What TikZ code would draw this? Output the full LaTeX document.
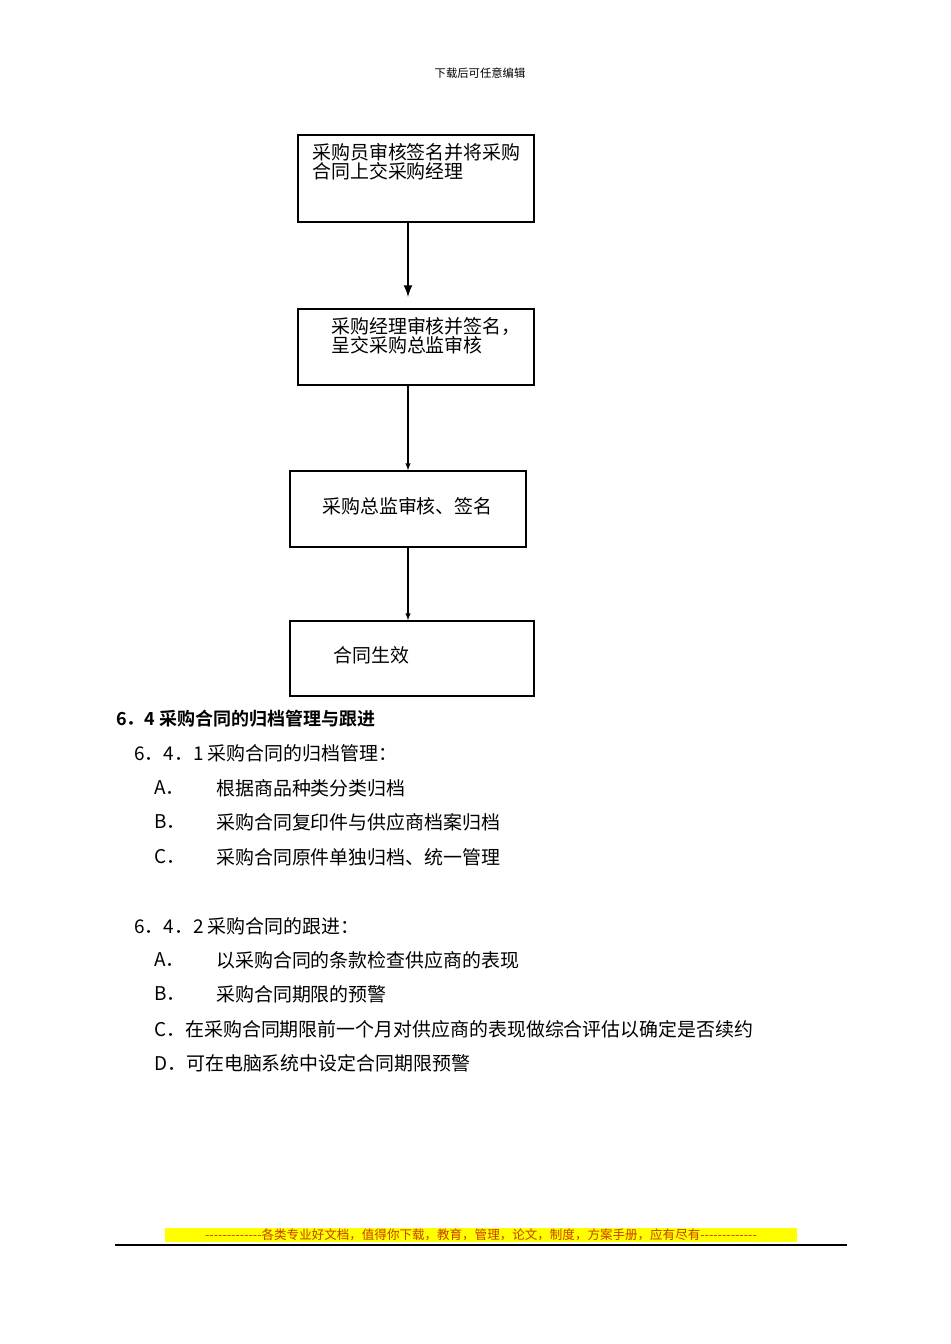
\documentclass[tikz,border=0pt]{standalone}
\usepackage{fontspec}
\setmainfont{Noto Sans CJK SC}
\newfontfamily\cjkb{Noto Sans CJK SC}[BoldFont={* Bold}]
\definecolor{hl}{RGB}{255,255,0}
\definecolor{ft}{RGB}{200,60,0}
\newcommand\dsh{-{}-{}-{}-{}-{}-{}-{}-{}-{}-{}-{}-{}-{}}
\begin{document}
\begin{tikzpicture}[x=0.75pt,y=-0.75pt,
  box/.style={draw,line width=1pt},
  txt/.style={anchor=west,inner sep=0,font=\fontsize{14.2}{17}\selectfont},
  arr/.style={-latex,line width=0.8pt},
  arrb/.style={-latex,line width=2pt}]
\useasboundingbox (0,0) rectangle (950,1344);
\node (hdr) at (480,73) {\fontsize{8.5}{10}\selectfont 下载后可任意编辑};
\node[box,minimum width=236*0.75pt,minimum height=87*0.75pt] (b1) at (416,178.5) {};
\node[box,minimum width=236*0.75pt,minimum height=76*0.75pt] (b2) at (416,347) {};
\node[box,minimum width=236*0.75pt,minimum height=76*0.75pt] (b3) at (408,509) {};
\node[box,minimum width=244*0.75pt,minimum height=75*0.75pt] (b4) at (412,658.5) {};
\node[txt] (t1a) at (312,152) {采购员审核签名并将采购};
\node[txt] (t1b) at (312,171) {合同上交采购经理};
\node[txt] (t2a) at (331,326) {采购经理审核并签名，};
\node[txt] (t2b) at (331,345) {呈交采购总监审核};
\node[txt] (t3) at (322,506) {采购总监审核、签名};
\node[txt] (t4) at (333,655) {合同生效};
\draw[arrb] (b1.south -| 408,0) -- (408,297);
\draw[arr] (b2.south -| 408,0) -- (b3.north -| 408,0);
\draw[arr] (b3.south) -- (b4.north -| 408,0);
\node[txt,font=\cjkb\bfseries\fontsize{13.5}{16}\selectfont] (h) at (116,719) {6．4 采购合同的归档管理与跟进};
\node[txt] (s1) at (134,753) {6．4．1 采购合同的归档管理：};
\node[txt] (a1) at (154,788) {A．};\node[txt] (a1t) at (216,788) {根据商品种类分类归档};
\node[txt] (a2) at (154,822) {B．};\node[txt] (a2t) at (216,822) {采购合同复印件与供应商档案归档};
\node[txt] (a3) at (154,857) {C．};\node[txt] (a3t) at (216,857) {采购合同原件单独归档、统一管理};
\node[txt] (s2) at (134,926) {6．4．2 采购合同的跟进：};
\node[txt] (c1) at (154,960) {A．};\node[txt] (c1t) at (216,960) {以采购合同的条款检查供应商的表现};
\node[txt] (c2) at (154,994) {B．};\node[txt] (c2t) at (216,994) {采购合同期限的预警};
\node[txt] (c3) at (154,1029) {C．在采购合同期限前一个月对供应商的表现做综合评估以确定是否续约};
\node[txt] (c4) at (154,1063) {D．可在电脑系统中设定合同期限预警};
\node[fill=hl,inner sep=0.5pt,text=ft,font=\fontsize{9.4}{10}\selectfont,minimum width=632*0.75pt,minimum height=14*0.75pt] (ft) at (481,1235) {\dsh 各类专业好文档，值得你下载，教育，管理，论文，制度，方案手册，应有尽有\dsh};
\coordinate (r1) at (115,1245); \coordinate (r2) at (847,1245);
\draw[line width=1.2pt] (r1) -- (r2);
\end{tikzpicture}
\end{document}
